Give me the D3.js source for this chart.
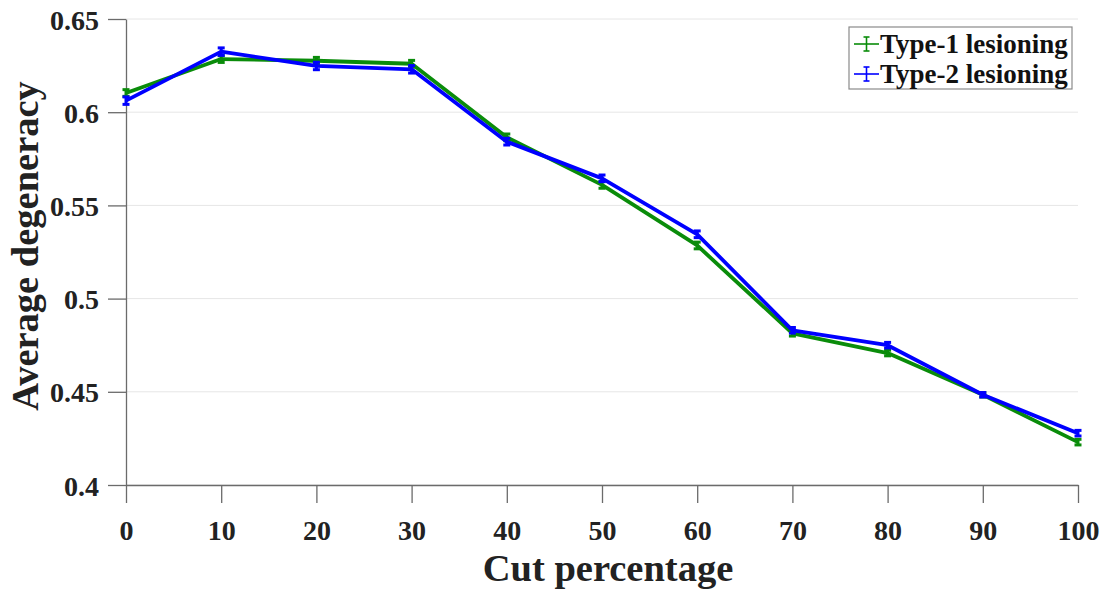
<!DOCTYPE html>
<html>
<head>
<meta charset="utf-8">
<script src="https://cdn.jsdelivr.net/npm/d3@7"></script>
<style>
  html, body { margin: 0; padding: 0; background: #fff; }
  svg { display: block; }
  text { font-family: "Liberation Serif", "Times New Roman", serif; font-weight: bold; }
</style>
</head>
<body>
<svg id="chart" width="1105" height="589"></svg>
<script>
// Cut percentage along the x axis
const cutPercent = [0, 10, 20, 30, 40, 50, 60, 70, 80, 90, 100];

// Average degeneracy for each lesioning type
const type1Values = [0.6103, 0.6285, 0.6276, 0.6260, 0.5865, 0.5610, 0.5285, 0.4814, 0.4708, 0.4484, 0.4230];
const type2Values = [0.6062, 0.6325, 0.6248, 0.6230, 0.5842, 0.5645, 0.5345, 0.4830, 0.4750, 0.4484, 0.4278];

// Standard error of each point
const type1Errors = [0.0018, 0.0018, 0.0018, 0.0018, 0.0018, 0.0018, 0.0018, 0.0015, 0.0015, 0.0012, 0.0015];
const type2Errors = [0.0020, 0.0020, 0.0020, 0.0020, 0.0018, 0.0018, 0.0018, 0.0015, 0.0015, 0.0012, 0.0015];

const seriesNames = ["Type-1 lesioning", "Type-2 lesioning"];
const seriesColors = ["#0a8c0a", "#0000ff"];

const xTicks = [0, 10, 20, 30, 40, 50, 60, 70, 80, 90, 100];
const yTicks = [0.4, 0.45, 0.5, 0.55, 0.6, 0.65];

const svg = d3.select("#chart");
const margin = { left: 126, right: 27, top: 19, bottom: 104 };
const W = 1105, H = 589;
const plotW = W - margin.left - margin.right;
const plotH = H - margin.top - margin.bottom;

const x = d3.scaleLinear().domain([0, 100]).range([margin.left, margin.left + plotW]);
const y = d3.scaleLinear().domain([0.4, 0.65]).range([margin.top + plotH, margin.top]);

// Horizontal grid lines
svg.append("g")
  .selectAll("line")
  .data(yTicks)
  .join("line")
  .attr("x1", x(0)).attr("x2", x(100))
  .attr("y1", d => y(d)).attr("y2", d => y(d))
  .attr("stroke", "#e6e6e6").attr("stroke-width", 1);

// Axes
const axisColor = "#6b6b6b";
const tickFont = 28;

const xAxis = svg.append("g")
  .attr("transform", `translate(0,${y(0.4)})`)
  .call(d3.axisBottom(x).tickValues(xTicks).tickFormat(d3.format("d")).tickSize(18).tickSizeOuter(0));
xAxis.select(".domain").attr("stroke", axisColor).attr("stroke-width", 1.3);
xAxis.selectAll(".tick line").attr("stroke", axisColor).attr("stroke-width", 1.3);
xAxis.selectAll(".tick text")
  .attr("fill", "#222").attr("font-size", tickFont)
  .attr("y", 35).attr("dy", "0.71em");

const yAxis = svg.append("g")
  .attr("transform", `translate(${x(0)},0)`)
  .call(d3.axisLeft(y).tickValues(yTicks).tickFormat(d => String(d)).tickSize(18).tickSizeOuter(0));
yAxis.select(".domain").attr("stroke", axisColor).attr("stroke-width", 1.3);
yAxis.selectAll(".tick line").attr("stroke", axisColor).attr("stroke-width", 1.3);
yAxis.selectAll(".tick text")
  .attr("fill", "#222").attr("font-size", tickFont)
  .attr("x", -27).attr("dy", "0.36em");

// Axis titles
svg.append("text")
  .attr("x", 608).attr("y", 581)
  .attr("text-anchor", "middle")
  .attr("font-size", 38.5).attr("fill", "#222")
  .text("Cut percentage");

svg.append("text")
  .attr("transform", `translate(38,246) rotate(-90)`)
  .attr("text-anchor", "middle")
  .attr("font-size", 38.5).attr("fill", "#222")
  .text("Average degeneracy");

// Series lines with error bars
const series = [
  { name: seriesNames[0], color: seriesColors[0], values: type1Values, errors: type1Errors },
  { name: seriesNames[1], color: seriesColors[1], values: type2Values, errors: type2Errors }
];

const line = d3.line().x((d, i) => x(cutPercent[i])).y(d => y(d));
const capHalf = 3.5;

series.forEach(s => {
  const g = svg.append("g");
  g.append("path")
    .datum(s.values)
    .attr("d", line)
    .attr("fill", "none")
    .attr("stroke", s.color)
    .attr("stroke-width", 3.8)
    .attr("stroke-linejoin", "round");

  const pts = s.values.map((v, i) => ({ x: cutPercent[i], v, e: s.errors[i] }));
  const bars = g.selectAll("g.err").data(pts).join("g").attr("class", "err");
  bars.append("line")
    .attr("x1", d => x(d.x)).attr("x2", d => x(d.x))
    .attr("y1", d => y(d.v - d.e)).attr("y2", d => y(d.v + d.e))
    .attr("stroke", s.color).attr("stroke-width", 3);
  [-1, 1].forEach(sign => {
    bars.append("line")
      .attr("x1", d => x(d.x) - capHalf).attr("x2", d => x(d.x) + capHalf)
      .attr("y1", d => y(d.v + sign * d.e)).attr("y2", d => y(d.v + sign * d.e))
      .attr("stroke", s.color).attr("stroke-width", 3);
  });
});

// Legend
const legend = svg.append("g").attr("transform", "translate(849,27)");
legend.append("rect")
  .attr("width", 223).attr("height", 62)
  .attr("fill", "#fff").attr("stroke", "#8a8a8a").attr("stroke-width", 1.2);

series.forEach((s, i) => {
  const cy = 17 + i * 30;
  const row = legend.append("g").attr("transform", `translate(0,${cy})`);
  row.append("line").attr("x1", 5).attr("x2", 30).attr("y1", 0).attr("y2", 0)
    .attr("stroke", s.color).attr("stroke-width", 1.6);
  row.append("line").attr("x1", 17.5).attr("x2", 17.5).attr("y1", -7).attr("y2", 7)
    .attr("stroke", s.color).attr("stroke-width", 1.6);
  row.append("line").attr("x1", 14.5).attr("x2", 20.5).attr("y1", -7).attr("y2", -7)
    .attr("stroke", s.color).attr("stroke-width", 1.6);
  row.append("line").attr("x1", 14.5).attr("x2", 20.5).attr("y1", 7).attr("y2", 7)
    .attr("stroke", s.color).attr("stroke-width", 1.6);
  row.append("text")
    .attr("x", 31).attr("y", 0).attr("dy", "0.34em")
    .attr("font-size", 27).attr("fill", "#111")
    .text(s.name);
});
</script>
</body>
</html>
